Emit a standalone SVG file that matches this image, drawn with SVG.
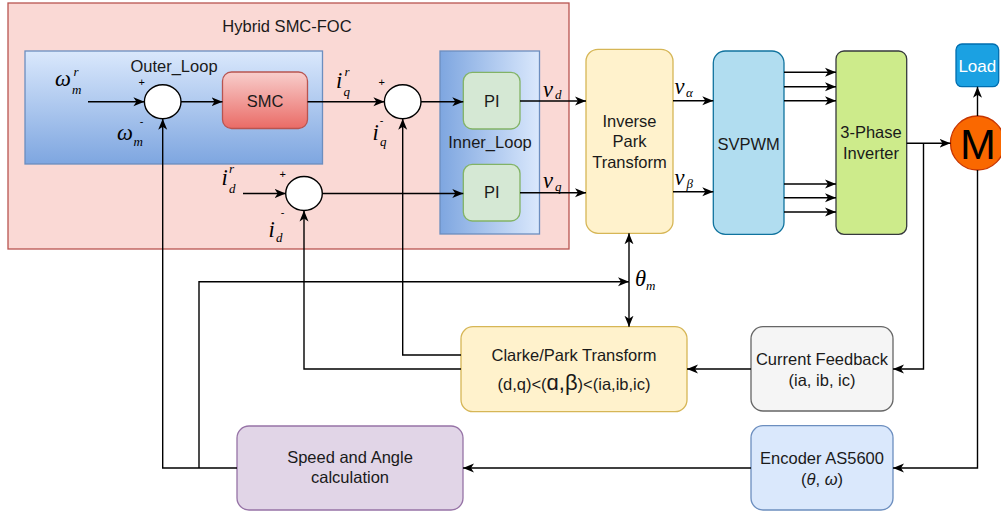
<svg xmlns="http://www.w3.org/2000/svg" width="1001" height="513" viewBox="0 0 1001 513">
<defs>
<linearGradient id="gOuter" x1="0" y1="0" x2="0" y2="1"><stop offset="0" stop-color="#dae8fc"/><stop offset="1" stop-color="#7ea6e0"/></linearGradient>
<linearGradient id="gInner" x1="0" y1="0" x2="1" y2="0"><stop offset="0" stop-color="#7ea6e0"/><stop offset="1" stop-color="#dae8fc"/></linearGradient>
<linearGradient id="gSmc" x1="0" y1="0" x2="0" y2="1"><stop offset="0" stop-color="#f8cecc"/><stop offset="1" stop-color="#ea6b66"/></linearGradient>
<marker id="arr" markerUnits="userSpaceOnUse" markerWidth="12" markerHeight="12" refX="11" refY="6" orient="auto" viewBox="0 0 12 12">
<path d="M0,1.5 L11,6 L0,10.5 L3,6 Z" fill="#000"/>
</marker>
<style>
.t{font-family:"Liberation Sans",Arial,sans-serif;font-size:16.5px;fill:#1a1a1a;text-anchor:middle}
.m{font-family:"Liberation Serif","DejaVu Serif",serif;font-style:italic;fill:#000}
.big{font-size:22.5px}
.sub{font-size:13px}
.pm{font-family:"Liberation Sans",Arial,sans-serif;font-size:11px;fill:#000;text-anchor:middle}
.c{fill:none;stroke:#000;stroke-width:1.4}
.a{marker-end:url(#arr)}
.sum{fill:#fff;stroke:#000;stroke-width:1.4}
</style>
</defs>
<rect width="1001" height="513" fill="#fff"/>

<g id="hybrid">
<rect x="8" y="3" width="561" height="246" fill="#fad9d5" stroke="#b85450" stroke-width="1.3"/>
<text class="t" x="287" y="31.5">Hybrid SMC-FOC</text>
</g>
<g id="outer_loop">
<rect x="25" y="51" width="297.5" height="113" fill="url(#gOuter)" stroke="#6c8ebf" stroke-width="1.3"/>
<text class="t" x="174" y="72">Outer_Loop</text>
</g>
<g id="inner_loop">
<rect x="440" y="51" width="99.5" height="183" fill="url(#gInner)" stroke="#6c8ebf" stroke-width="1.3"/>
<text class="t" x="490" y="148.3">Inner_Loop</text>
</g>
<g id="sum1"><ellipse class="sum" cx="162.7" cy="101.7" rx="18.3" ry="17"/>
<text class="pm" x="141.7" y="85.5">+</text><text class="pm" x="141.7" y="125">-</text></g>
<g id="smc"><rect x="222.5" y="72" width="85" height="56.5" rx="9" fill="url(#gSmc)" stroke="#b85450" stroke-width="1.3"/>
<text class="t" x="265" y="106.7">SMC</text></g>
<g id="sum2"><ellipse class="sum" cx="402.7" cy="101.7" rx="18.3" ry="17"/>
<text class="pm" x="381.7" y="85.5">+</text><text class="pm" x="381.7" y="124">-</text></g>
<g id="sum3"><ellipse class="sum" cx="304" cy="193.5" rx="18.3" ry="17"/>
<text class="pm" x="282.7" y="177.5">+</text><text class="pm" x="282.7" y="216">-</text></g>
<g id="pi_d"><rect x="463.3" y="72.3" width="56.7" height="56.7" rx="9" fill="#d5e8d4" stroke="#82b366" stroke-width="1.3"/>
<text class="t" x="491.7" y="106.7">PI</text></g>
<g id="pi_q"><rect x="463.3" y="164.3" width="56.7" height="56.7" rx="9" fill="#d5e8d4" stroke="#82b366" stroke-width="1.3"/>
<text class="t" x="491.7" y="198.3">PI</text></g>
<g id="inverse_park"><rect x="586" y="49.3" width="87" height="184" rx="12" fill="#fff2cc" stroke="#d6b656" stroke-width="1.3"/>
<text class="t" x="629.5" y="126.7">Inverse</text><text class="t" x="629.5" y="147">Park</text><text class="t" x="629.5" y="168">Transform</text></g>
<g id="svpwm"><rect x="713.3" y="51" width="70.7" height="183.3" rx="12" fill="#b1ddf0" stroke="#10739e" stroke-width="1.3"/>
<text class="t" x="748.6" y="150">SVPWM</text></g>
<g id="inverter"><rect x="836" y="51" width="70.7" height="183.3" rx="8" fill="#cdeb8b" stroke="#36393d" stroke-width="1.3"/>
<text class="t" x="871" y="138.3">3-Phase</text><text class="t" x="871" y="159">Inverter</text></g>
<g id="motor"><circle cx="977.5" cy="143" r="27" fill="#fa6800" stroke="#c73500" stroke-width="1.3"/>
<text x="978" y="158.5" font-family="Liberation Sans, Arial, sans-serif" font-size="43" fill="#000" text-anchor="middle">M</text></g>
<g id="load"><rect x="956" y="44" width="42.7" height="42.7" rx="6" fill="#1ba1e2" stroke="#006eaf" stroke-width="1.3"/>
<text class="t" x="977.3" y="71.7" style="fill:#fff;font-size:17px">Load</text></g>
<g id="clarke_park"><rect x="461" y="326.7" width="226" height="85" rx="12" fill="#fff2cc" stroke="#d6b656" stroke-width="1.3"/>
<text class="t" x="574" y="360.7">Clarke/Park Transform</text>
<text class="t" x="574" y="390">(d,q)&lt;(<tspan style="font-size:22px">ɑ,β</tspan>)&lt;(ia,ib,ic)</text></g>
<g id="current_feedback"><rect x="751" y="326.7" width="142" height="84.3" rx="12" fill="#f5f5f5" stroke="#666666" stroke-width="1.3"/>
<text class="t" x="822" y="365">Current Feedback</text><text class="t" x="822" y="386">(ia, ib, ic)</text></g>
<g id="encoder"><rect x="751" y="425.7" width="142" height="84.3" rx="12" fill="#dae8fc" stroke="#6c8ebf" stroke-width="1.3"/>
<text class="t" x="822" y="464">Encoder AS5600</text><text class="t" x="822" y="485">(<tspan font-style="italic">θ</tspan>, <tspan font-style="italic">ω</tspan>)</text></g>
<g id="speed_angle"><rect x="237" y="426" width="226" height="84" rx="12" fill="#e1d5e7" stroke="#9673a6" stroke-width="1.3"/>
<text class="t" x="350" y="463.3">Speed and Angle</text><text class="t" x="350" y="483.3">calculation</text></g>

<g id="connectors">
<path class="c a" d="M88,101.7 H144.4"/>
<path class="c a" d="M181,101.7 H222.5"/>
<path class="c a" d="M307.5,101.7 H384.4"/>
<path class="c a" d="M421,101.7 H463.3"/>
<path class="c a" d="M243,193.5 H285.7"/>
<path class="c a" d="M322.3,193.5 H463.3"/>
<path class="c a" d="M520,101 H586"/>
<path class="c a" d="M520,192.7 H586"/>
<path class="c a" d="M673,100.7 H713.3"/>
<path class="c a" d="M673,191.7 H713.3"/>
<path class="c a" d="M784,72.3 H836"/>
<path class="c a" d="M784,86.7 H836"/>
<path class="c a" d="M784,100.7 H836"/>
<path class="c a" d="M784,184 H836"/>
<path class="c a" d="M784,197.7 H836"/>
<path class="c a" d="M784,212 H836"/>
<path class="c a" d="M906.7,143.3 H950.5"/>
<path class="c a" d="M977.5,116 V86.7"/>
<path class="c a" d="M923.5,143.3 V369 H893"/>
<path class="c a" d="M977.5,170 V468 H893"/>
<path class="c a" d="M751,369 H687"/>
<path class="c a" d="M751,468 H463"/>
<path class="c a" d="M461,355 H402.7 V118.7"/>
<path class="c a" d="M461,369 H304 V210.5"/>
<path class="c a" d="M237,468 H162.7 V118.7"/>
<path class="c a" d="M199,468 V281.7 H629"/>
<path class="c a" d="M629,281.7 V233.3"/>
<path class="c a" d="M629,281.7 V326.7"/>
</g>

<g id="labels">
<text class="m big" x="55" y="86">ω</text><text class="m sub" x="73.5" y="76">r</text><text class="m sub" x="72" y="93.5">m</text>
<text class="m big" x="117" y="140">ω</text><text class="m sub" x="133.5" y="145.5">m</text>
<text class="m big" x="336" y="88">i</text><text class="m sub" x="344.5" y="75.5">r</text><text class="m sub" x="343.5" y="96">q</text>
<text class="m big" x="372.5" y="140">i</text><text class="m sub" x="380" y="146">q</text>
<text class="m big" x="221.5" y="184.5">i</text><text class="m sub" x="229" y="173">r</text><text class="m sub" x="229" y="193">d</text>
<text class="m big" x="268.5" y="237">i</text><text class="m sub" x="276" y="242">d</text>
<text class="m big" x="543" y="96.5">v</text><text class="m sub" x="555" y="99">d</text>
<text class="m big" x="543" y="188">v</text><text class="m sub" x="555" y="191">q</text>
<text class="m big" x="674.5" y="93.5">v</text><text class="m sub" x="686" y="96.5">α</text>
<text class="m big" x="674.5" y="184.5">v</text><text class="m sub" x="686.5" y="188">β</text>
<text class="m big" x="635" y="286">θ</text><text class="m sub" x="646" y="290">m</text>
</g>
</svg>
